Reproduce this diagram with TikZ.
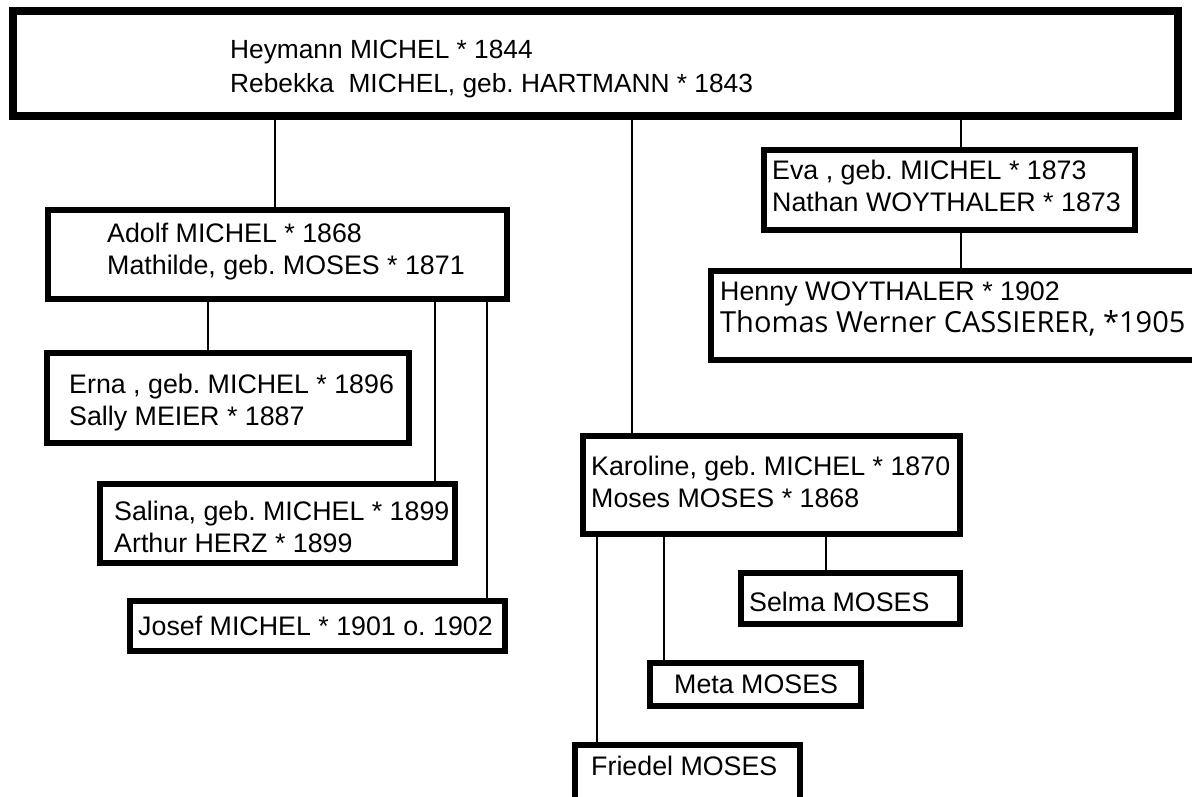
\documentclass[tikz,border=0pt]{standalone}
\usepackage{fontspec}
\setmainfont{Liberation Sans}
\newfontfamily\osans{Open Sans}
\frenchspacing
\begin{document}
\begin{tikzpicture}[x=1pt,y=-1pt,
  famthick/.style={draw, rectangle, line width=8pt, inner sep=0pt, outer sep=0pt, anchor=north west},
  fam/.style={draw, rectangle, line width=6pt, inner sep=0pt, outer sep=0pt, anchor=north west},
  txt/.style={anchor=base west, inner sep=0pt, align=left, font=\frenchspacing\fontsize{26.8}{32}\selectfont},
  link/.style={line width=2.2pt}]
\useasboundingbox (0,0) rectangle (1192,796);
\fill[white] (0,0) rectangle (1192,796);
\clip (0,0) rectangle (1192,796);
% boxes
\node[famthick, minimum width=1165pt, minimum height=105pt] (top) at (13,11) {};
\node[fam, minimum width=371pt, minimum height=80pt] (eva) at (764,150) {};
\node[fam, minimum width=459pt, minimum height=89pt] (adolf) at (48,210) {};
\node[fam, minimum width=491pt, minimum height=89pt] (henny) at (711,271) {};
\node[fam, minimum width=362pt, minimum height=90pt] (erna) at (47,353) {};
\node[fam, minimum width=377pt, minimum height=98pt] (karoline) at (583,436) {};
\node[fam, minimum width=355pt, minimum height=79pt] (salina) at (100,484) {};
\node[fam, minimum width=219pt, minimum height=51pt] (selma) at (741,573) {};
\node[fam, minimum width=375pt, minimum height=50pt] (josef) at (130,601) {};
\node[fam, minimum width=211pt, minimum height=43pt] (meta) at (650,663) {};
\node[fam, minimum width=225pt, minimum height=70pt] (friedel) at (575,745) {};
% texts (multi-line nodes anchored at the baseline of their last line)
\node[txt, font=\frenchspacing\fontsize{26.3}{34}\selectfont] (ttop) at (230,92) {Heymann MICHEL * 1844\\Rebekka\ \ MICHEL, geb. HARTMANN * 1843};
\node[txt] (teva) at (772,211) {Eva , geb. MICHEL * 1873\\Nathan WOYTHALER * 1873};
\node[txt] (tadolf) at (107,274) {Adolf MICHEL * 1868\\Mathilde, geb. MOSES * 1871};
\node[txt] (thenny) at (720,300) {Henny WOYTHALER * 1902};
\node[txt, font=\osans\fontsize{29}{32}\selectfont] (tthomas) at (720,332) {Thomas Werner CASSIERER, *1905};
\node[txt] (terna) at (69,425) {Erna , geb. MICHEL * 1896\\Sally MEIER * 1887};
\node[txt] (tkaroline) at (591,507) {Karoline, geb. MICHEL * 1870\\Moses MOSES * 1868};
\node[txt] (tsalina) at (114,552) {Salina, geb. MICHEL * 1899\\Arthur HERZ * 1899};
\node[txt] (tselma) at (749,611) {Selma MOSES};
\node[txt] (tjosef) at (138,635) {Josef MICHEL * 1901 o. 1902};
\node[txt] (tmeta) at (674,693) {Meta MOSES};
\node[txt] (tfriedel) at (591,775) {Friedel MOSES};
% connector x positions
\coordinate (x275) at (275,0);
\coordinate (x632) at (632,0);
\coordinate (x961) at (961,0);
\coordinate (x208) at (208,0);
\coordinate (x435) at (435,0);
\coordinate (x487) at (487,0);
\coordinate (x597) at (597,0);
\coordinate (x664) at (664,0);
\coordinate (x826) at (826,0);
% connectors
\draw[link] (top.south -| x275) -- (adolf.north -| x275);
\draw[link] (top.south -| x632) -- (karoline.north -| x632);
\draw[link] (top.south -| x961) -- (eva.north -| x961);
\draw[link] (eva.south -| x961) -- (henny.north -| x961);
\draw[link] (adolf.south -| x208) -- (erna.north -| x208);
\draw[link] (adolf.south -| x435) -- (salina.north -| x435);
\draw[link] (adolf.south -| x487) -- (josef.north -| x487);
\draw[link] (karoline.south -| x597) -- (friedel.north -| x597);
\draw[link] (karoline.south -| x664) -- (meta.north -| x664);
\draw[link] (karoline.south -| x826) -- (selma.north -| x826);
\end{tikzpicture}
\end{document}
